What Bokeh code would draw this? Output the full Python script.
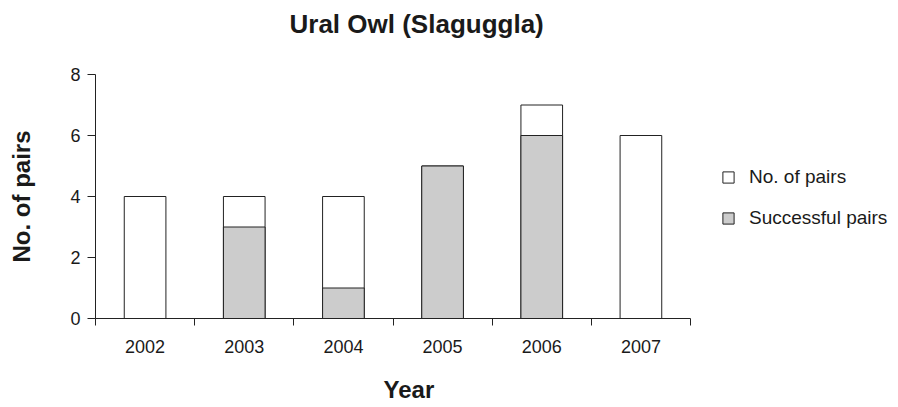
from bokeh.plotting import figure
from bokeh.models import (Range1d, FixedTicker, Legend, LegendItem, Title, LinearAxis)
from bokeh.embed import file_html
from bokeh.resources import INLINE

# ---- data ----
years = ["2002", "2003", "2004", "2005", "2006", "2007"]
no_of_pairs = [4, 4, 4, 5, 7, 6]
successful_pairs = [0, 3, 1, 5, 6, 0]
y_ticks = [0, 2, 4, 6, 8]

title_text = "Ural Owl (Slaguggla)"
x_title = "Year"
y_title = "No. of pairs"

FONT = "Liberation Sans"
TXT = "#1a1a1a"
GREY = "#cccccc"
LINE = "#222222"

xs = list(range(1, len(years) + 1))

p = figure(width=890, height=399, output_backend="svg", toolbar_location=None,
           x_range=Range1d(0.5, len(years) + 0.5), y_range=Range1d(0, 8),
           min_border_left=95, min_border_right=200, min_border_top=74,
           min_border_bottom=81)
p.frame_width = 595
p.frame_height = 244
p.outline_line_color = None
p.xgrid.visible = False
p.ygrid.visible = False
p.background_fill_color = "white"
p.border_fill_color = "white"

r1 = p.vbar(x=xs, top=no_of_pairs, width=0.42, fill_color="white",
            line_color=LINE, line_width=1)
r2 = p.vbar(x=xs, top=successful_pairs, width=0.42, fill_color=GREY,
            line_color=LINE, line_width=1)

# x axis: labels at category centres, tick marks at category boundaries
xa = p.xaxis[0]
xa.ticker = FixedTicker(ticks=xs, minor_ticks=[x - 0.5 for x in xs] + [len(years) + 0.5])
xa.major_label_overrides = {x: y for x, y in zip(xs, years)}
xa.major_tick_out = 0
xa.major_tick_in = 0
xa.minor_tick_out = 7
xa.minor_tick_in = 0
xa.minor_tick_line_color = LINE
xa.axis_line_color = LINE
xa.major_label_text_font = FONT
xa.major_label_text_font_size = "18px"
xa.major_label_text_color = TXT
xa.major_label_standoff = 14

ya = p.yaxis[0]
ya.ticker = FixedTicker(ticks=y_ticks, minor_ticks=[])
ya.major_tick_out = 8
ya.major_tick_in = 0
ya.minor_tick_out = 0
ya.minor_tick_in = 0
ya.major_tick_line_color = LINE
ya.axis_line_color = LINE
ya.major_label_text_font = FONT
ya.major_label_text_font_size = "18px"
ya.major_label_text_color = TXT
ya.major_label_standoff = 7
ya.axis_label = y_title
ya.axis_label_text_font = FONT
ya.axis_label_text_font_style = "bold"
ya.axis_label_text_font_size = "24px"
ya.axis_label_text_color = TXT
ya.axis_label_standoff = 32

# blank spacer (transparent tick, empty label) between plot area and title
spacer = LinearAxis(ticker=FixedTicker(ticks=[xs[0]], minor_ticks=[]),
                    major_label_overrides={xs[0]: ""},
                    axis_line_color=None, major_tick_line_color=None,
                    minor_tick_line_color=None, major_tick_out=34, major_tick_in=0,
                    minor_tick_out=0, minor_tick_in=0, major_label_standoff=0,
                    major_label_text_font_size="1px")
p.add_layout(spacer, "above")

p.add_layout(Title(text=title_text, align="left", offset=194, standoff=0,
                   vertical_align="top",
                   text_font=FONT, text_font_style="bold", text_font_size="26px",
                   text_color=TXT), "above")

p.add_layout(Title(text=x_title, align="left", offset=288, standoff=36,
                   text_font=FONT, text_font_style="bold", text_font_size="24px",
                   text_color=TXT), "below")

legend = Legend(items=[LegendItem(label="No. of pairs", renderers=[r1]),
                       LegendItem(label="Successful pairs", renderers=[r2])],
                location=(31, 89), border_line_color=None,
                background_fill_alpha=0, glyph_width=14, glyph_height=14,
                label_text_font=FONT, label_text_font_size="19px",
                label_text_color=TXT, spacing=19, padding=0, margin=0,
                label_standoff=14)
p.add_layout(legend, "right")

open("out.html", "w").write(file_html(p, INLINE))
